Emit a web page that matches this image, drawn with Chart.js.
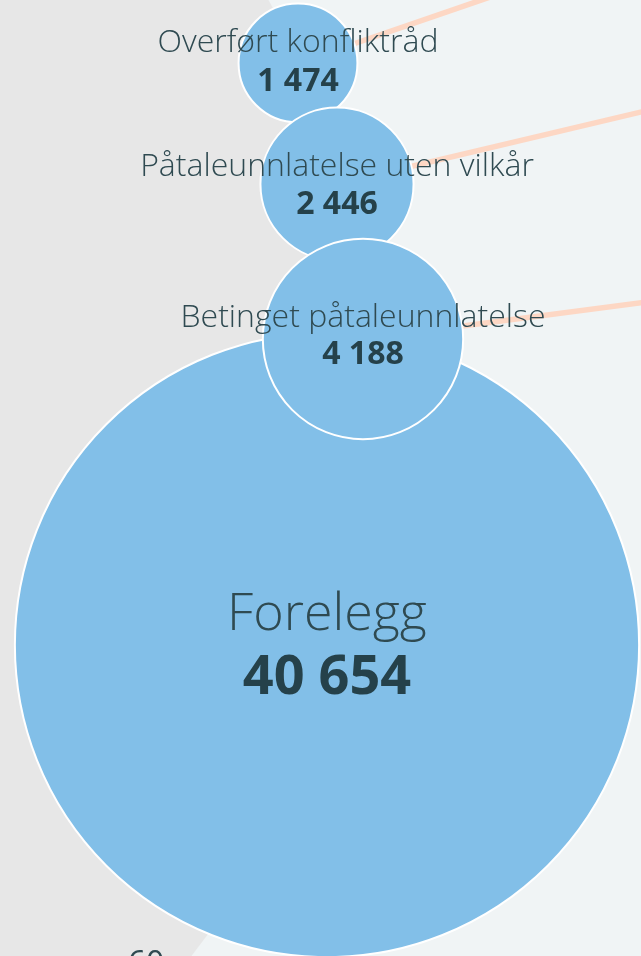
<!DOCTYPE html>
<html>
<head>
<meta charset="utf-8">
<script src="https://cdn.jsdelivr.net/npm/chart.js@4.4.1/dist/chart.umd.min.js"></script>
<style>
  html, body { margin: 0; padding: 0; background: #f0f4f5; }
  #wrap { width: 641px; height: 956px; position: relative; }
</style>
</head>
<body>
<div id="wrap"><canvas id="c"></canvas></div>
<script>
// ---- data ----
const categories = ['Forelegg', 'Overført konfliktråd', 'Påtaleunnlatelse uten vilkår', 'Betinget påtaleunnlatelse'];
const values = [40654, 1474, 2446, 4188];
const valueLabels = ['40 654', '1 474', '2 446', '4 188'];
const partialLabel = '60';

// ---- layout (pixel-like units on hidden 0..641 / 0..956 scales) ----
const posX = [327, 298, 337, 363];
const posY = [645, 63, 184, 339];
const labelSize = [52, 32, 32, 32];
const numberSize = [54, 32, 32, 32];
const labelOffset = [-30, -20, -17, -21];
const numberOffset = [34, 19, 21, 16];
const linkFrom = [null, [700, -75], [700, 98], [700, 295]];
const radiusScale = 1.548; // r = k * sqrt(value)

const fill = '#82bfe8';
const bubbleData = values.map((v, i) => ({ x: posX[i], y: posY[i], r: radiusScale * Math.sqrt(v) }));

const linkDatasets = [];
linkFrom.forEach((f, i) => {
  if (!f) return;
  linkDatasets.push({
    type: 'line',
    data: [{ x: f[0], y: f[1] }, { x: posX[i], y: posY[i] }],
    borderColor: '#fdd7c4',
    borderWidth: 5.5,
    pointRadius: 0,
    fill: false,
    order: 2
  });
});

const bgPlugin = {
  id: 'bg',
  beforeDatasetsDraw(chart) {
    const { ctx, scales: { x, y }, width, height } = chart;
    ctx.save();
    ctx.fillStyle = '#f0f4f5';
    ctx.fillRect(0, 0, width, height);
    // large grey background region (part of the surrounding figure)
    const cx = x.getPixelForValue(-490), cy = y.getPixelForValue(420);
    const rr = x.getPixelForValue(867) - x.getPixelForValue(0);
    ctx.beginPath();
    ctx.arc(cx, cy, rr, 0, Math.PI * 2);
    ctx.fillStyle = '#e7e7e7';
    ctx.fill();
    ctx.restore();
  }
};

const labelPlugin = {
  id: 'labels',
  afterDatasetsDraw(chart) {
    const { ctx } = chart;
    const meta = chart.getDatasetMeta(0);
    ctx.save();
    ctx.textAlign = 'center';
    ctx.textBaseline = 'middle';
    meta.data.forEach((el, i) => {
      ctx.font = '300 ' + labelSize[i] + 'px "Open Sans"';
      ctx.fillStyle = '#2f4a51';
      ctx.fillText(categories[i], el.x, el.y + labelOffset[i]);
      ctx.font = '700 ' + numberSize[i] + 'px "Open Sans"';
      ctx.fillStyle = '#25414a';
      ctx.fillText(valueLabels[i], el.x, el.y + numberOffset[i]);
    });
    // partially visible label of a neighbouring bubble at the bottom edge
    const { x, y } = chart.scales;
    ctx.font = '400 32px "Open Sans"';
    ctx.fillStyle = '#2f4a51';
    ctx.textBaseline = 'alphabetic';
    ctx.fillText(partialLabel, x.getPixelForValue(146), y.getPixelForValue(974));
    ctx.restore();
  }
};

new Chart(document.getElementById('c'), {
  type: 'bubble',
  data: {
    datasets: [
      {
        data: bubbleData,
        backgroundColor: fill,
        borderColor: '#ffffff',
        borderWidth: 2,
        hoverRadius: 0,
        clip: false,
        order: 1
      },
      ...linkDatasets
    ]
  },
  options: {
    responsive: true,
    maintainAspectRatio: false,
    animation: false,
    devicePixelRatio: 1,
    layout: { padding: 0, autoPadding: false },
    plugins: { legend: { display: false }, tooltip: { enabled: false } },
    scales: {
      x: { type: 'linear', min: 0, max: 641, display: false },
      y: { type: 'linear', min: 0, max: 956, reverse: true, display: false }
    }
  },
  plugins: [bgPlugin, labelPlugin]
});
</script>
</body>
</html>
